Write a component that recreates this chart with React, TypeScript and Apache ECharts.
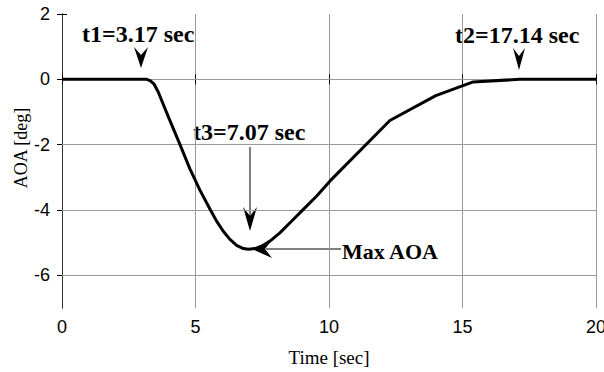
import React, { useEffect, useRef } from "react";
import * as echarts from "echarts";

const timeSec = [0, 1, 2, 3, 3.17, 3.3, 3.45, 3.6, 3.78, 4.0, 4.42, 4.79, 5.17, 5.54, 5.79, 6.04, 6.29, 6.54, 6.79, 6.98, 7.23, 7.48, 7.79, 8.16, 8.54, 9.04, 9.54, 10.04, 12.28, 14.0, 15.4, 17.14, 20];
const aoaDeg = [0, 0, 0, 0, 0, -0.04, -0.15, -0.38, -0.74, -1.18, -2.0, -2.74, -3.4, -3.97, -4.34, -4.65, -4.9, -5.08, -5.18, -5.2, -5.18, -5.11, -4.95, -4.7, -4.39, -3.98, -3.57, -3.11, -1.26, -0.5, -0.08, 0, 0];
const yTickValues = [2, 0, -2, -4, -6];
const yGridValues = [0, -2, -4, -6];
const annotationTexts = ["t1=3.17 sec", "t2=17.14 sec", "t3=7.07 sec", "Max AOA"];

const arrowDown = (tx: number, ty: number, L: number, w: number, d: number) => ({
  type: "polygon",
  shape: { points: [[tx, ty], [tx - w, ty - L], [tx, ty - L + d], [tx + w, ty - L]] },
  style: { fill: "#000" },
  silent: true,
});
const arrowLeft = (tx: number, ty: number, L: number, w: number, d: number) => ({
  type: "polygon",
  shape: { points: [[tx, ty], [tx + L, ty - w], [tx + L - d, ty], [tx + L, ty + w]] },
  style: { fill: "#000" },
  silent: true,
});
const label = (text: string, x: number, y: number, size: number) => ({
  type: "text",
  x,
  y,
  silent: true,
  style: {
    text,
    fill: "#000",
    font: `bold ${size}px "Liberation Serif", "Times New Roman", serif`,
    textAlign: "left",
    textVerticalAlign: "middle",
  },
});

export default function App() {
  const ref = useRef<HTMLDivElement>(null);
  useEffect(() => {
    if (!ref.current) return;
    const chart = echarts.init(ref.current, null, { renderer: "svg" });
    const boxColor = "#333";
    const gridColor = "#9a9a9a";
    const tickLabel = { fontFamily: "Liberation Sans, Arial, sans-serif", fontSize: 18, color: "#000" };
    chart.setOption({
      animation: false,
      backgroundColor: "#fff",
      grid: { left: 62, right: 8, top: 14, bottom: 64, containLabel: false, outerBoundsMode: "none" },
      xAxis: [
        {
          type: "value", min: 0, max: 20, interval: 5, position: "bottom",
          axisLine: { show: true, lineStyle: { color: boxColor, width: 1 } },
          axisTick: { show: true, inside: true, length: 5, lineStyle: { color: "#000" } },
          axisLabel: { ...tickLabel, margin: 10 },
          splitLine: { show: true, lineStyle: { color: gridColor, width: 1 } },
          name: "Time [sec]", nameLocation: "middle", nameGap: 40, nameMoveOverlap: false,
          nameTextStyle: { fontFamily: "Liberation Serif, Times New Roman, serif", fontSize: 19, color: "#000" },
        },
        {
          type: "value", min: 0, max: 20, interval: 5, position: "top",
          axisLine: { show: true, lineStyle: { color: boxColor, width: 1 } },
          axisTick: { show: true, inside: true, length: 5, lineStyle: { color: "#000" } },
          axisLabel: { show: false },
          splitLine: { show: false },
        },
      ],
      yAxis: [
        {
          type: "value", min: -7, max: 2, interval: 1, position: "left",
          axisLine: { show: true, lineStyle: { color: boxColor, width: 1 } },
          axisTick: { show: true, inside: true, length: 5, customValues: yTickValues, lineStyle: { color: "#000" } },
          axisLabel: {
            ...tickLabel, margin: 12, customValues: yTickValues,
            formatter: (v: number) => (Math.round(v) % 2 === 0 ? String(v) : ""),
          },
          splitLine: { show: false },
          name: "AOA [deg]", nameLocation: "middle", nameGap: 32, nameRotate: 90, nameMoveOverlap: false,
          nameTextStyle: { fontFamily: "Liberation Serif, Times New Roman, serif", fontSize: 18, color: "#000", padding: [0, 0, 0, 26] },
        },
        {
          type: "value", min: -7, max: 2, interval: 1, position: "right",
          axisLine: { show: true, lineStyle: { color: boxColor, width: 1 } },
          axisTick: { show: true, inside: true, length: 5, customValues: yTickValues, lineStyle: { color: "#000" } },
          axisLabel: { show: false },
          splitLine: { show: false },
        },
      ],
      series: [
        {
          type: "line",
          xAxisIndex: 0,
          yAxisIndex: 0,
          data: timeSec.map((t, i) => [t, aoaDeg[i]]),
          showSymbol: false,
          symbol: "none",
          smooth: false,
          z: 3,
          lineStyle: { color: "#000", width: 3, join: "round" },
          markLine: {
            silent: true,
            z: 1,
            symbol: "none",
            label: { show: false },
            lineStyle: { color: gridColor, width: 1, type: "solid" },
            data: yGridValues.map((v) => ({ yAxis: v })),
          },
        },
      ],
      graphic: [
        label(annotationTexts[0], 82, 34, 24),
        arrowDown(141, 68, 21, 7, 8),
        label(annotationTexts[1], 455, 35, 24),
        arrowDown(519, 70, 22, 6, 8),
        label(annotationTexts[2], 193, 132, 24),
        { type: "line", silent: true, shape: { x1: 250, y1: 147, x2: 250, y2: 216 }, style: { stroke: "#000", lineWidth: 1 } },
        arrowDown(250, 231, 24, 7, 9),
        { type: "line", silent: true, shape: { x1: 266, y1: 249, x2: 341, y2: 249 }, style: { stroke: "#000", lineWidth: 1 } },
        arrowLeft(252, 249, 20, 9, 7),
        label(annotationTexts[3], 342, 251, 22),
      ],
    });
    return () => chart.dispose();
  }, []);
  return (
    <div
      ref={ref}
      style={{ position: "fixed", left: 0, top: 0, width: 604, height: 372, background: "#fff" }}
    />
  );
}
